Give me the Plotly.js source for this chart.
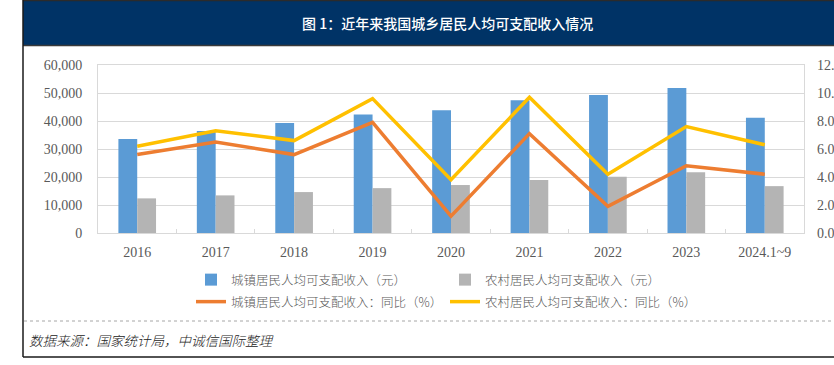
<!DOCTYPE html>
<html>
<head>
<meta charset="utf-8">
<script src="https://cdn.plot.ly/plotly-3.0.1.min.js"></script>
<style>
  html, body { margin: 0; padding: 0; background: #ffffff; }
  #chart { width: 834px; height: 365px; }
</style>
</head>
<body>
<div id="chart"></div>
<script>
// ---- data ----
const categories = ['2016', '2017', '2018', '2019', '2020', '2021', '2022', '2023', '2024.1~9'];
const urbanIncome = [33616, 36396, 39251, 42359, 43834, 47412, 49283, 51821, 41183];
const ruralIncome = [12363, 13432, 14617, 16021, 17131, 18931, 20133, 21691, 16740];
const urbanGrowth = [5.6, 6.5, 5.6, 7.9, 1.2, 7.1, 1.9, 4.8, 4.2];
const ruralGrowth = [6.2, 7.3, 6.6, 9.6, 3.8, 9.7, 4.2, 7.6, 6.3];
const seriesNames = [
  '城镇居民人均可支配收入（元）',
  '农村居民人均可支配收入（元）',
  '城镇居民人均可支配收入：同比（%）',
  '农村居民人均可支配收入：同比（%）'
];
const titleText = '图 1：近年来我国城乡居民人均可支配收入情况';
const sourceText = '数据来源：国家统计局，中诚信国际整理';

// ---- geometry helpers (pixel -> paper) ----
const W = 834, H = 365;
const M = {l: 98, r: 30, t: 65, b: 132};
const PW = W - M.l - M.r, PH = H - M.t - M.b;
const px = x => (x - M.l) / PW;
const py = y => (H - M.b - y) / PH;

const CJK = '"Noto Sans CJK SC", "Noto Sans", sans-serif';
const SERIF = '"Liberation Serif", "DejaVu Serif", serif';
const legendFont = {family: CJK, size: 12.5, color: '#595959', weight: 300};

const traces = [
  {type: 'bar', name: seriesNames[0], x: categories, y: urbanIncome,
   marker: {color: '#5B9BD5'}, legend: 'legend'},
  {type: 'bar', name: seriesNames[1], x: categories, y: ruralIncome,
   marker: {color: '#B4B4B4'}, legend: 'legend2'},
  {type: 'scatter', mode: 'lines', name: seriesNames[2], x: categories, y: urbanGrowth,
   yaxis: 'y2', line: {color: '#ED7D31', width: 3.5}, legend: 'legend3'},
  {type: 'scatter', mode: 'lines', name: seriesNames[3], x: categories, y: ruralGrowth,
   yaxis: 'y2', line: {color: '#FFC000', width: 3.5}, legend: 'legend4'}
];

function leg(xp, yp) {
  return {x: px(xp), y: py(yp), xanchor: 'left', yanchor: 'middle',
          orientation: 'v', font: legendFont, bgcolor: 'rgba(0,0,0,0)',
          borderwidth: 0, itemwidth: 30};
}

const layout = {
  width: W, height: H,
  margin: M,
  paper_bgcolor: '#ffffff', plot_bgcolor: '#ffffff',
  showlegend: true,
  barmode: 'group', bargap: 0.52, bargroupgap: 0,
  xaxis: {
    type: 'category', showgrid: false,
    showline: true, mirror: true, linecolor: '#D9D9D9', linewidth: 1,
    ticks: 'inside', tickson: 'boundaries', ticklen: 4, tickcolor: '#D9D9D9',
    tickfont: {family: SERIF, size: 14, color: '#595959'},
    ticklabelstandoff: 6, fixedrange: true
  },
  yaxis: {
    range: [0, 60000], dtick: 10000, tickformat: ',d',
    showgrid: true, gridcolor: '#D9D9D9', gridwidth: 1,
    showline: true, mirror: true, linecolor: '#D9D9D9', linewidth: 1,
    zeroline: false, ticks: '',
    tickfont: {family: SERIF, size: 14, color: '#595959'},
    ticklabelstandoff: 12, fixedrange: true
  },
  yaxis2: {
    overlaying: 'y', side: 'right', range: [0, 12], dtick: 2, tickformat: '.1f',
    showgrid: false, zeroline: false, showline: false, ticks: '',
    tickfont: {family: SERIF, size: 14, color: '#595959'},
    ticklabelstandoff: 12, fixedrange: true
  },
  legend: leg(191, 280),
  legend2: leg(445, 280),
  legend3: leg(191, 302),
  legend4: leg(445, 302),
  shapes: [
    // header band
    {type: 'rect', xref: 'paper', yref: 'paper', x0: px(23), x1: px(840), y0: py(0), y1: py(45.5),
     fillcolor: '#003366', line: {width: 0}, layer: 'below'},
    // header top & bottom dark lines
    {type: 'line', xref: 'paper', yref: 'paper', x0: px(23), x1: px(840), y0: py(0.5), y1: py(0.5),
     line: {color: '#2b2b2b', width: 1.5}},
    {type: 'line', xref: 'paper', yref: 'paper', x0: px(23), x1: px(840), y0: py(45.5), y1: py(45.5),
     line: {color: '#3a3a3a', width: 1.5}},
    // left frame
    {type: 'line', xref: 'paper', yref: 'paper', x0: px(23), x1: px(23), y0: py(0), y1: py(357),
     line: {color: '#1a1a1a', width: 1.5}},
    // bottom frame
    {type: 'line', xref: 'paper', yref: 'paper', x0: px(23), x1: px(840), y0: py(357), y1: py(357),
     line: {color: '#1a1a1a', width: 1.5}},
    // dotted separator
    {type: 'line', xref: 'paper', yref: 'paper', x0: px(24), x1: px(840), y0: py(321), y1: py(321),
     line: {color: '#A6A6A6', width: 1, dash: 'dot'}}
  ],
  annotations: [
    {text: titleText, xref: 'paper', yref: 'paper', x: px(447), y: py(23),
     xanchor: 'center', yanchor: 'middle', showarrow: false,
     font: {family: CJK, size: 14, color: '#ffffff', weight: 500}},
    {text: sourceText, xref: 'paper', yref: 'paper', x: px(27), y: py(340),
     xanchor: 'left', yanchor: 'middle', showarrow: false,
     font: {family: CJK, size: 13.5, color: '#222222', style: 'italic', weight: 300}}
  ]
};

Plotly.newPlot('chart', traces, layout, {displayModeBar: false, staticPlot: true});
</script>
</body>
</html>
